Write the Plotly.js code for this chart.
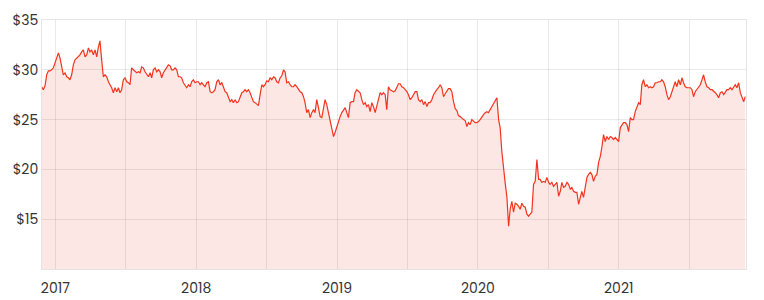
<!DOCTYPE html>
<html>
<head>
<meta charset="utf-8">
<script src="https://cdn.plot.ly/plotly-3.0.1.min.js"></script>
<style>html,body{margin:0;padding:0;background:#fff;}#chart{width:764px;height:300px;}</style>
</head>
<body>
<div id="chart"></div>
<script>
// Time in decimal years
const time = [
2016.903,2016.915,2016.927,2016.939,2016.951,2016.962,2016.974,2016.986,2016.998,
2017.010,2017.022,2017.033,2017.045,2017.057,2017.069,2017.081,2017.093,2017.104,2017.116,
2017.128,2017.140,2017.152,2017.164,2017.175,2017.187,2017.199,2017.211,2017.223,2017.235,
2017.246,2017.258,2017.270,2017.282,2017.294,2017.306,2017.317,2017.329,2017.341,2017.353,
2017.365,2017.377,2017.388,2017.400,2017.412,2017.424,2017.436,2017.448,2017.459,2017.471,
2017.483,2017.495,2017.507,2017.519,2017.530,2017.542,2017.554,2017.566,2017.578,2017.590,
2017.602,2017.613,2017.625,2017.637,2017.649,2017.661,2017.673,2017.684,2017.696,2017.708,
2017.720,2017.732,2017.744,2017.755,2017.767,2017.779,2017.791,2017.803,2017.815,2017.826,
2017.838,2017.850,2017.862,2017.874,2017.886,2017.897,2017.909,2017.921,2017.933,2017.945,
2017.957,2017.968,2017.980,2017.992,2018.004,2018.016,2018.028,2018.039,2018.051,2018.063,
2018.075,2018.087,2018.099,2018.111,2018.122,2018.134,2018.146,2018.158,2018.170,2018.182,
2018.193,2018.205,2018.217,2018.229,2018.241,2018.253,2018.264,2018.276,2018.288,2018.300,
2018.312,2018.324,2018.335,2018.347,2018.359,2018.371,2018.383,2018.395,2018.406,2018.418,
2018.430,2018.442,2018.454,2018.466,2018.477,2018.489,2018.501,2018.513,2018.525,2018.537,
2018.549,2018.560,2018.572,2018.584,2018.596,2018.608,2018.620,2018.631,2018.643,2018.655,
2018.667,2018.679,2018.691,2018.702,2018.714,2018.726,2018.738,2018.750,2018.762,2018.773,
2018.785,2018.797,2018.809,2018.821,2018.833,2018.844,2018.856,2018.868,2018.880,2018.892,
2018.904,2018.915,2018.927,2018.939,2018.951,2018.963,2018.975,2018.986,2018.998,2019.010,
2019.022,2019.034,2019.046,2019.058,2019.069,2019.081,2019.093,2019.105,2019.117,2019.128,
2019.140,2019.152,2019.164,2019.176,2019.188,2019.200,2019.211,2019.223,2019.235,2019.247,
2019.259,2019.271,2019.282,2019.294,2019.306,2019.318,2019.330,2019.342,2019.353,2019.365,
2019.377,2019.389,2019.401,2019.413,2019.424,2019.436,2019.448,2019.460,2019.472,2019.484,
2019.496,2019.507,2019.519,2019.531,2019.543,2019.555,2019.567,2019.578,2019.590,2019.602,
2019.614,2019.626,2019.638,2019.649,2019.661,2019.673,2019.685,2019.697,2019.708,2019.720,
2019.732,2019.744,2019.756,2019.768,2019.780,2019.791,2019.803,2019.815,2019.827,2019.839,
2019.851,2019.862,2019.874,2019.886,2019.898,2019.910,2019.922,2019.933,2019.945,2019.957,
2019.969,2019.981,2019.993,2020.004,2020.016,2020.028,2020.040,2020.052,2020.064,2020.075,
2020.087,2020.099,2020.111,2020.123,2020.135,2020.147,2020.158,2020.170,2020.182,2020.194,
2020.206,2020.218,2020.229,2020.241,2020.253,2020.265,2020.277,2020.289,2020.300,2020.312,
2020.324,2020.336,2020.348,2020.360,2020.371,2020.383,2020.395,2020.407,2020.419,2020.431,
2020.442,2020.454,2020.466,2020.478,2020.490,2020.502,2020.513,2020.525,2020.537,2020.549,
2020.561,2020.573,2020.585,2020.596,2020.608,2020.620,2020.632,2020.644,2020.656,2020.667,
2020.679,2020.691,2020.703,2020.715,2020.727,2020.738,2020.750,2020.762,2020.774,2020.786,
2020.798,2020.809,2020.821,2020.833,2020.845,2020.857,2020.869,2020.880,2020.892,2020.904,
2020.916,2020.928,2020.940,2020.951,2020.963,2020.975,2020.987,2020.999,2021.011,2021.022,
2021.034,2021.046,2021.058,2021.070,2021.082,2021.093,2021.105,2021.117,2021.129,2021.141,
2021.153,2021.164,2021.176,2021.188,2021.200,2021.212,2021.224,2021.235,2021.247,2021.259,
2021.271,2021.283,2021.295,2021.306,2021.318,2021.330,2021.342,2021.354,2021.366,2021.377,
2021.389,2021.401,2021.413,2021.425,2021.437,2021.449,2021.460,2021.472,2021.484,2021.496,
2021.508,2021.520,2021.531,2021.543,2021.555,2021.567,2021.579,2021.591,2021.602,2021.614,
2021.626,2021.638,2021.650,2021.662,2021.673,2021.685,2021.697,2021.709,2021.721,2021.733,
2021.745,2021.756,2021.768,2021.780,2021.792,2021.804,2021.815,2021.827,2021.839,2021.851,
2021.863,2021.875,2021.887,2021.898
];

// Share price in $
const price = [
28.3,28.0,28.4,29.5,29.9,29.9,30.0,30.2,30.7,
31.2,31.7,31.2,30.3,29.5,29.7,29.3,29.2,29.0,29.5,
30.5,31.0,31.2,31.3,31.5,31.8,32.0,31.3,31.5,32.2,
31.8,32.0,31.5,32.0,31.3,32.3,32.9,31.0,29.3,29.5,
29.3,28.8,28.5,28.2,27.7,28.2,27.8,28.2,27.7,28.0,
29.0,29.2,28.8,28.7,28.5,30.2,30.0,29.8,29.7,29.8,
29.7,30.3,30.2,29.8,29.5,29.3,29.7,29.2,30.0,30.2,
29.8,30.0,29.8,29.2,29.7,30.0,30.3,30.5,30.4,30.0,
30.0,30.2,30.0,29.3,29.3,29.2,28.7,28.5,28.2,28.5,
28.3,28.8,29.0,28.7,28.8,28.8,28.5,28.7,28.5,28.3,
28.7,28.8,27.8,27.7,27.8,28.0,28.8,29.0,28.5,28.7,
28.3,27.8,27.7,27.3,26.8,27.0,26.7,27.0,26.7,26.8,
27.3,27.7,27.8,28.0,27.8,28.0,27.7,27.2,26.8,26.7,
26.5,26.4,27.5,28.5,28.3,28.5,28.9,28.8,29.2,29.0,
29.3,29.2,28.8,28.7,29.2,29.4,30.0,29.8,28.7,28.8,
28.5,28.3,28.3,28.5,28.3,28.0,27.8,27.7,27.3,26.7,
25.7,26.0,25.2,25.7,26.0,25.7,27.0,26.2,25.3,25.2,
26.2,27.0,26.5,25.7,24.7,24.2,23.3,23.7,24.3,24.7,
25.3,25.7,26.0,26.2,25.7,25.2,26.7,26.8,26.8,27.7,
28.0,27.8,27.7,27.0,26.5,26.7,26.3,26.5,25.8,26.7,
26.3,25.7,26.3,27.0,27.7,27.5,27.7,27.5,26.0,28.3,
28.0,27.9,27.8,27.9,28.2,28.6,28.6,28.3,28.2,28.0,
27.8,27.5,27.0,27.2,27.5,27.8,27.8,27.0,26.8,27.0,
26.5,26.8,26.3,26.7,26.7,27.0,27.5,27.8,28.0,28.2,
28.5,28.2,27.3,27.6,27.9,28.1,28.1,27.8,26.8,26.1,
25.9,25.4,25.3,25.1,25.0,24.9,24.3,24.7,24.5,25.0,
24.8,24.7,24.7,24.8,25.0,25.3,25.5,25.7,25.8,25.7,
26.0,26.2,26.5,26.8,27.2,25.0,24.2,21.8,19.8,18.6,
17.2,14.3,16.0,16.8,15.7,16.6,16.5,16.3,16.0,16.6,
16.3,16.2,15.5,15.3,15.5,15.7,18.5,18.8,21.0,19.0,
19.0,18.7,18.8,18.7,19.2,18.7,18.5,18.7,18.3,18.5,
18.7,17.3,17.8,18.7,18.2,18.3,18.7,18.5,18.0,18.2,
17.8,17.7,17.7,16.5,17.2,17.8,17.2,18.3,19.2,19.5,
19.7,19.5,18.8,19.3,19.5,20.7,21.3,22.2,23.5,22.8,
23.3,23.0,23.3,23.2,23.0,23.2,23.0,22.8,24.2,24.5,
24.7,24.7,24.5,23.8,25.2,25.0,25.0,25.8,26.3,26.7,
26.5,28.5,29.0,28.3,28.5,28.2,28.3,28.2,28.3,28.7,
28.7,28.8,28.8,29.0,28.8,28.3,27.5,27.0,27.3,27.8,
28.5,28.8,28.3,29.0,28.5,29.2,28.7,28.3,28.2,28.2,
28.2,28.0,27.3,27.8,28.0,28.2,28.5,29.0,29.5,28.8,
28.3,28.2,28.0,28.0,27.8,27.7,27.5,27.2,27.7,27.8,
27.5,27.8,28.0,28.0,28.2,28.0,28.3,28.5,28.2,28.7,
27.7,27.3,26.8,27.3
];

const xTickVals = [2017, 2017.5, 2018, 2018.5, 2019, 2019.5, 2020, 2020.5, 2021, 2021.5];
const xTickText = ['2017', '', '2018', '', '2019', '', '2020', '', '2021', ''];
const yTickVals = [15, 20, 25, 30, 35];
const yTickText = ['$15', '$20', '$25', '$30', '$35'];
const xRange = [2016.9055, 2021.9034];
const yRange = [10, 35];

const gridColor = 'rgba(0,0,0,0.085)';
const trace = {
  x: time,
  y: price,
  type: 'scatter',
  mode: 'lines',
  line: {color: '#f2341f', width: 1.2},
  fill: 'tozeroy',
  fillcolor: 'rgba(240,60,40,0.12)',
  hoverinfo: 'x+y'
};

const layout = {
  width: 764,
  height: 300,
  margin: {l: 42, r: 18, t: 20, b: 31},
  paper_bgcolor: '#ffffff',
  plot_bgcolor: '#ffffff',
  showlegend: false,
  font: {family: 'Poppins, Roboto, sans-serif', size: 14, color: '#333333'},
  xaxis: {
    type: 'linear',
    range: xRange,
    tickmode: 'array',
    tickvals: xTickVals,
    ticktext: xTickText,
    showgrid: true,
    gridcolor: gridColor,
    gridwidth: 1,
    zeroline: false,
    showline: true,
    linecolor: 'rgba(0,0,0,0.1)',
    linewidth: 1,
    mirror: true,
    ticks: '',
    ticklabelstandoff: 6,
    tickfont: {size: 14, color: '#333333'}
  },
  yaxis: {
    range: yRange,
    tickmode: 'array',
    tickvals: yTickVals,
    ticktext: yTickText,
    showgrid: true,
    gridcolor: gridColor,
    gridwidth: 1,
    zeroline: false,
    showline: true,
    linecolor: 'rgba(0,0,0,0.1)',
    linewidth: 1,
    mirror: true,
    ticks: '',
    tickfont: {size: 14, color: '#333333'}
  }
};

Plotly.newPlot('chart', [trace], layout, {displayModeBar: false, staticPlot: true});
</script>
</body>
</html>
